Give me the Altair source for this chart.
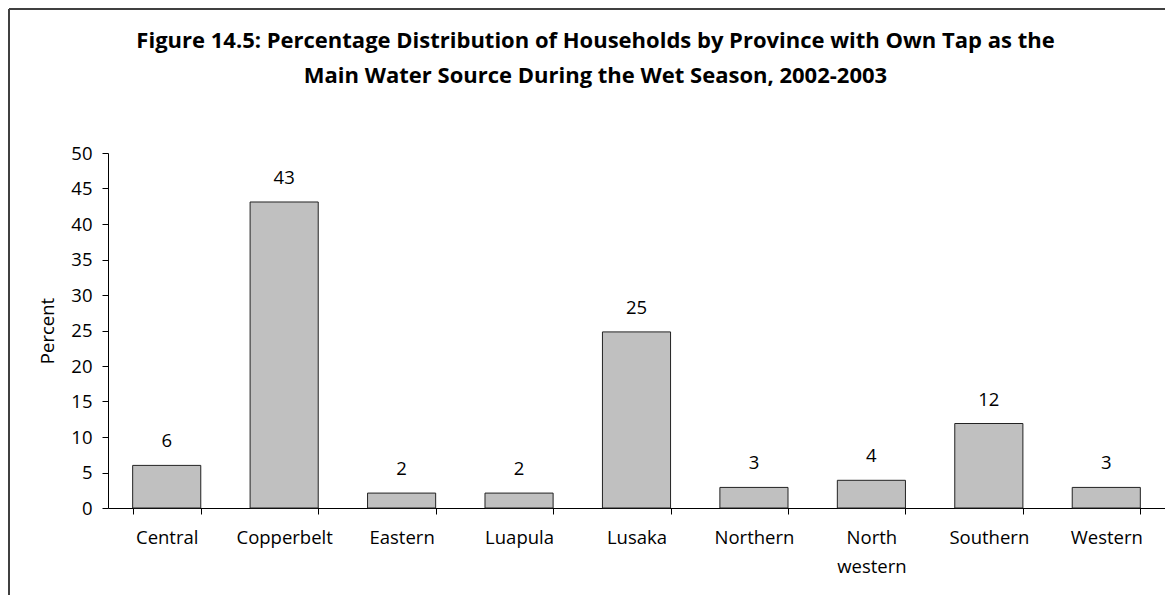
import altair as alt
import pandas as pd

provinces = ["Central", "Copperbelt", "Eastern", "Luapula", "Lusaka",
             "Northern", "North western", "Southern", "Western"]
percent = [6.0, 43.1, 2.1, 2.1, 24.8, 2.9, 3.9, 11.9, 2.9]
y_ticks = [0, 5, 10, 15, 20, 25, 30, 35, 40, 45, 50]
title_lines = ["Figure 14.5: Percentage Distribution of Households by Province with Own Tap as the",
               "Main Water Source During the Wet Season, 2002-2003"]

df = pd.DataFrame({"Province": provinces, "Percent": percent})

FONT = "Open Sans"
FS = 18.5
W, H = 1057, 355

x_enc = alt.X("Province:N", sort=provinces,
              scale=alt.Scale(paddingInner=0.42, paddingOuter=0.21),
              axis=alt.Axis(title=None, labelAngle=0, tickBand="extent", tickSize=6,
                            tickColor="black", domainColor="black", labelColor="black",
                            labelFontSize=FS, labelFont=FONT, labelPadding=14,
                            labelLineHeight=29,
                            labelExpr="datum.label == 'North western' ? ['North', 'western'] : datum.label"))
y_enc = alt.Y("Percent:Q", scale=alt.Scale(domain=[0, 50], nice=False),
              axis=alt.Axis(values=y_ticks, title="Percent", grid=False, tickSize=6,
                            labelOverlap=False,
                            tickColor="black", domainColor="black", labelColor="black",
                            labelFontSize=FS, labelFont=FONT, labelPadding=10,
                            titleFont=FONT, titleFontSize=FS, titleFontWeight="normal",
                            titleColor="black", titleX=-55, titleY=H / 2,
                            titleBaseline="alphabetic", titleAngle=270))

bars = alt.Chart(df).mark_bar(color="#c0c0c0", stroke="#222222", strokeWidth=1).encode(
    x=x_enc, y=y_enc)

labels = alt.Chart(df).mark_text(dy=-24, baseline="middle", fontSize=FS, font=FONT,
                                 color="black").encode(
    x=x_enc, y=y_enc,
    text=alt.Text("Percent:Q", format=".0f"))

frame_df = pd.DataFrame({"k": [0]})
frame_left = alt.Chart(frame_df).mark_rule(color="#404040", strokeWidth=2).encode(
    x=alt.value(-99), y=alt.value(-144), y2=alt.value(H + 90))
frame_top = alt.Chart(frame_df).mark_rule(color="#404040", strokeWidth=2).encode(
    x=alt.value(-99), x2=alt.value(W + 10), y=alt.value(-144))

chart = alt.layer(bars, labels, frame_left, frame_top).properties(
    width=W, height=H,
    autosize=alt.AutoSizeParams(type="none"),
    padding={"left": 100, "top": 145, "right": 0, "bottom": 87},
    title=alt.TitleParams(title_lines, font=FONT, fontSize=22, fontWeight="bold",
                          color="black", anchor="middle", frame="group", dx=-41,
                          lineHeight=35, offset=-80),
).configure_view(stroke=None)

chart.save("out.html", embed_options={"renderer": "svg", "actions": False})
